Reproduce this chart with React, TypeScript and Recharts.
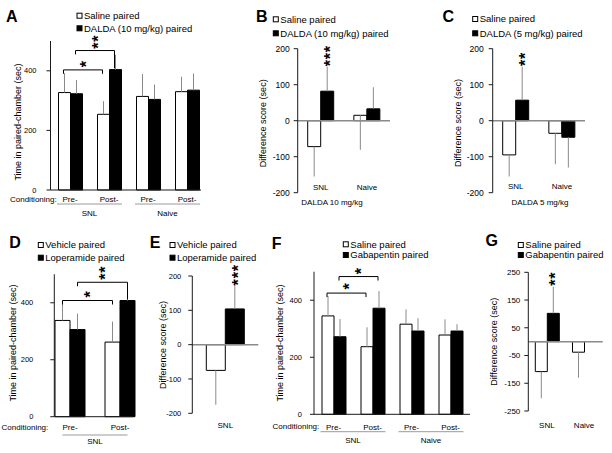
import React from "react";
import { BarChart, Bar, XAxis, YAxis, ErrorBar, ReferenceLine, ReferenceDot } from "recharts";

const W = 612;
const H = 453;
const YW = 40;
const FONT = '"Liberation Sans", Arial, Helvetica, sans-serif';
const AXIS = "#1a1a1a";
const ERR = "#8a8a8a";
const ZERO = "#8a8a8a";
const UNDER = "#9a9a9a";

// A: DALDA 10 mg/kg, time in paired chamber
const aSeries = ["Saline paired", "DALDA (10 mg/kg) paired"];
const aCond = ["Pre-", "Post-", "Pre-", "Post-"];
const aGroup = ["SNL", "SNL", "Naive", "Naive"];
const aSaline = [327, 254, 314, 330];
const aSalineErr = [65, 44, 75, 50];
const aDalda = [323, 404, 304, 335];
const aDaldaErr = [46, 50, 50, 56];

// B: difference score, DALDA 10 mg/kg
const bSeries = ["Saline paired", "DALDA (10 mg/kg) paired"];
const bCats = ["SNL", "Naive"];
const bSaline = [-72, 15];
const bSalineErr = [[83, 0], [96, 0]];
const bDalda = [82, 33];
const bDaldaErr = [[0, 68], [0, 60]];

// C: difference score, DALDA 5 mg/kg
const cSeries = ["Saline paired", "DALDA (5 mg/kg) paired"];
const cCats = ["SNL", "Naive"];
const cSaline = [-95, -35];
const cSalineErr = [[60, 0], [86, 0]];
const cDalda = [57, -46];
const cDaldaErr = [[0, 93], [84, 0]];

// D: loperamide, time in paired chamber
const dSeries = ["Vehicle paired", "Loperamide paired"];
const dCond = ["Pre-", "Post-"];
const dGroup = ["SNL", "SNL"];
const dVehicle = [338, 262];
const dVehicleErr = [70, 72];
const dLoperamide = [306, 408];
const dLoperamideErr = [56, 55];

// E: difference score, loperamide
const eSeries = ["Vehicle paired", "Loperamide paired"];
const eCats = ["SNL"];
const eVehicle = [-75];
const eVehicleErr = [[100, 0]];
const eLoperamide = [104];
const eLoperamideErr = [[0, 71]];

// F: gabapentin, time in paired chamber
const fSeries = ["Saline paired", "Gabapentin paired"];
const fCond = ["Pre-", "Post-", "Pre-", "Post-"];
const fGroup = ["SNL", "SNL", "Naive", "Naive"];
const fSaline = [345, 237, 316, 278];
const fSalineErr = [70, 68, 52, 55];
const fGabapentin = [272, 372, 292, 292];
const fGabapentinErr = [62, 60, 45, 24];

// G: difference score, gabapentin
const gSeries = ["Saline paired", "Gabapentin paired"];
const gCats = ["SNL", "Naive"];
const gSaline = [-108, -38];
const gSalineErr = [[96, 0], [92, 0]];
const gGabapentin = [102, 0];
const gGabapentinErr = [[0, 96], [0, 42]];

const timeDomain = [0, 500];
const timeTicks = [0, 200, 400];
const diffDomain = [-200, 200];
const diffTicks = [-200, -100, 0, 100, 200];
const gDomain = [-250, 250];
const gTicks = [-250, -150, -50, 50, 150, 250];

// significance brackets (values in sec), side w = white bar, b = black bar
const aBrackets = [
  { from: 0, to: 1, side: "w", y: 403, endL: 390, endR: 390, stars: 1, starY: 424 },
  { from: 0, to: 1, side: "b", y: 468, endL: 455, endR: 408, stars: 2, starY: 486 },
];
const dBrackets = [
  { from: 0, to: 1, side: "w", y: 408, endL: 394, endR: 394, stars: 1, starY: 431 },
  { from: 0, to: 1, side: "b", y: 472, endL: 458, endR: 412, stars: 2, starY: 493 },
];
const fBrackets = [
  { from: 0, to: 1, side: "w", y: 425, endL: 411, endR: 411, stars: 1, starY: 450 },
  { from: 0, to: 1, side: "b", y: 483, endL: 469, endR: 469, stars: 1, starY: 503 },
];
const bStars = [{ cat: 0, side: "b", count: 3, y: 161 }];
const cStars = [{ cat: 0, side: "b", count: 2, y: 162 }];
const eStars = [{ cat: 0, side: "b", count: 3, y: 183 }];
const gStars = [{ cat: 0, side: "b", count: 2, y: 214 }];

// position of a bar centre on the hidden numeric axis [0, n]
function barPos(L: any, n: number, i: number, side: string) {
  const band = (L.right + L.padR * -1 - L.left - L.padL) / n;
  const off = Math.floor((band - 2 * L.barSize) / 2);
  const px = off + (side === "w" ? L.barSize / 2 : 1.5 * L.barSize);
  return i + px / band;
}

// stacked asterisks as one vertical run of text; cy = centre of the lowest one
function Stars({ cx, cy, count }: any) {
  const mid = cy - ((count - 1) * 7) / 2;
  const bx = cx + 9;
  return (
    <text
      x={bx}
      y={mid}
      transform={`rotate(-90 ${bx} ${mid})`}
      textAnchor="middle"
      fontSize={16}
      fontWeight="bold"
      letterSpacing={0.8}
      fontFamily={FONT}
      fill="#000"
    >
      {"*".repeat(count)}
    </text>
  );
}

function yAxisFor(L: any, domain: number[], ticks: number[]) {
  return (
    <YAxis
      width={YW}
      domain={domain}
      ticks={ticks}
      interval={0}
      tickSize={4}
      tickMargin={L.tickMargin}
      axisLine={{ stroke: AXIS }}
      tickLine={{ stroke: AXIS }}
      tick={{ fontSize: L.tickFont, fill: "#000", fontFamily: FONT }}
    />
  );
}

function slotAxis(n: number, pad: any) {
  return (
    <XAxis xAxisId="n" dataKey="slot" type="number" domain={[0, n]} allowDataOverflow hide padding={pad} />
  );
}

function TimeChart({ cond, group, white, whiteErr, black, blackErr, brackets, L }: any) {
  const rows = cond.map((c: string, i: number) => ({
    cond: c,
    group: group[i],
    slot: i + 0.5,
    white: white[i],
    whiteErr: [0, whiteErr[i]],
    black: black[i],
    blackErr: [0, blackErr[i]],
  }));
  const n = rows.length;
  const pad = { left: L.padL, right: L.padR };
  return (
    <div style={{ position: "absolute", left: 0, top: 0 }}>
      <BarChart
        width={W}
        height={H}
        data={rows}
        barGap={0}
        barSize={L.barSize}
        margin={{ top: L.top, left: L.left - YW, right: W - L.right, bottom: H - L.bottom - 32 }}
      >
        <XAxis
          dataKey="cond"
          height={12}
          padding={pad}
          axisLine={{ stroke: AXIS }}
          tickLine={false}
          tickSize={0}
          tickMargin={0}
          interval={0}
          tick={(t: any) => (
            <text x={t.x} y={t.y + L.catOff + 2.8} textAnchor="middle" fontSize={8} fontFamily={FONT} fill="#000">
              {t.payload.value}
            </text>
          )}
        />
        <XAxis
          xAxisId="g"
          dataKey="group"
          allowDuplicatedCategory={false}
          height={20}
          padding={pad}
          axisLine={false}
          tickLine={false}
          tickSize={0}
          tickMargin={0}
          interval={0}
          tick={(t: any) => (
            <g>
              <line x1={t.x - 32.5} x2={t.x + 32.5} y1={t.y + L.lineOff - 12} y2={t.y + L.lineOff - 12} stroke={UNDER} />
              <text x={t.x} y={t.y + L.groupOff - 12 + 2.8} textAnchor="middle" fontSize={8} fontFamily={FONT} fill="#000">
                {t.payload.value}
              </text>
            </g>
          )}
        />
        {slotAxis(n, pad)}
        {yAxisFor(L, timeDomain, timeTicks)}
        <Bar dataKey="white" fill="#fff" stroke="#000" strokeWidth={1} isAnimationActive={false}>
          <ErrorBar dataKey="whiteErr" width={0} stroke={ERR} strokeWidth={1} isAnimationActive={false} />
        </Bar>
        <Bar dataKey="black" fill="#000" stroke="#000" strokeWidth={1} isAnimationActive={false}>
          <ErrorBar dataKey="blackErr" width={0} stroke={ERR} strokeWidth={1} isAnimationActive={false} />
        </Bar>
        {brackets.flatMap((b: any, k: number) => {
          const x1 = barPos(L, n, b.from, b.side);
          const x2 = barPos(L, n, b.to, b.side);
          return [
            <ReferenceLine key={`h${k}`} xAxisId="n" segment={[{ x: x1, y: b.y }, { x: x2, y: b.y }]} stroke="#000" ifOverflow="visible" />,
            <ReferenceLine key={`l${k}`} xAxisId="n" segment={[{ x: x1, y: b.y }, { x: x1, y: b.endL }]} stroke="#000" ifOverflow="visible" />,
            <ReferenceLine key={`r${k}`} xAxisId="n" segment={[{ x: x2, y: b.y }, { x: x2, y: b.endR }]} stroke="#000" ifOverflow="visible" />,
            <ReferenceDot
              key={`s${k}`}
              xAxisId="n"
              x={(x1 + x2) / 2}
              y={b.starY}
              r={0}
              ifOverflow="visible"
              shape={(p: any) => <Stars cx={p.cx} cy={p.cy} count={b.stars} />}
            />,
          ];
        })}
      </BarChart>
    </div>
  );
}

function DiffChart({ cats, white, whiteErr, black, blackErr, stars, domain, ticks, L }: any) {
  const rows = cats.map((c: string, i: number) => ({
    cat: c,
    slot: i + 0.5,
    white: white[i],
    whiteErr: whiteErr[i],
    black: black[i],
    blackErr: blackErr[i],
  }));
  const n = rows.length;
  const pad = { left: L.padL, right: L.padR };
  return (
    <div style={{ position: "absolute", left: 0, top: 0 }}>
      <BarChart
        width={W}
        height={H}
        data={rows}
        barGap={0}
        barSize={L.barSize}
        margin={{ top: L.top, left: L.left - YW, right: W - L.right, bottom: H - L.bottom - 12 }}
      >
        <XAxis
          dataKey="cat"
          height={12}
          padding={pad}
          axisLine={false}
          tickLine={false}
          tickSize={0}
          tickMargin={0}
          interval={0}
          tick={(t: any) => (
            <text x={t.x} y={t.y + L.catOff + 2.8} textAnchor="middle" fontSize={8} fontFamily={FONT} fill="#000">
              {t.payload.value}
            </text>
          )}
        />
        {slotAxis(n, pad)}
        {yAxisFor(L, domain, ticks)}
        <Bar dataKey="white" fill="#fff" stroke="#000" strokeWidth={1} isAnimationActive={false}>
          <ErrorBar dataKey="whiteErr" width={0} stroke={ERR} strokeWidth={1} isAnimationActive={false} />
        </Bar>
        <Bar dataKey="black" fill="#000" stroke="#000" strokeWidth={1} isAnimationActive={false}>
          <ErrorBar dataKey="blackErr" width={0} stroke={ERR} strokeWidth={1} isAnimationActive={false} />
        </Bar>
        <ReferenceLine y={0} stroke={ZERO} strokeWidth={1.5} />
        {stars.map((s: any, k: number) => (
          <ReferenceDot
            key={k}
            xAxisId="n"
            x={barPos(L, n, s.cat, s.side)}
            y={s.y}
            r={0}
            ifOverflow="visible"
            shape={(p: any) => <Stars cx={p.cx} cy={p.cy} count={s.count} />}
          />
        ))}
      </BarChart>
    </div>
  );
}

function Legend2({ x, y, labels }: any) {
  return (
    <g>
      {labels.map((lab: string, i: number) => (
        <g key={i}>
          <rect x={x} y={y[i] - 2.5} width={5} height={5} fill={i === 0 ? "#fff" : "#000"} stroke="#000" strokeWidth={1} />
          <text x={x + 7} y={y[i] + 3.3} fontSize={9.5} fontFamily={FONT} fill="#000">
            {lab}
          </text>
        </g>
      ))}
    </g>
  );
}

function Letter({ x, y, t }: any) {
  return (
    <text x={x} y={y + 5.8} textAnchor="middle" fontSize={16} fontWeight="bold" fontFamily={FONT} fill="#000">
      {t}
    </text>
  );
}

function VLabel({ x, y, t }: any) {
  return (
    <text x={x} y={y} transform={`rotate(-90 ${x} ${y})`} textAnchor="middle" dominantBaseline="central" fontSize={9} fontFamily={FONT} fill="#000">
      {t}
    </text>
  );
}

function Small({ x, y, t, anchor = "middle" }: any) {
  return (
    <text x={x} y={y + 2.8} textAnchor={anchor} fontSize={8} fontFamily={FONT} fill="#000">
      {t}
    </text>
  );
}

const LA = { left: 50.5, right: 201, top: 41, bottom: 190, padL: 0, padR: -5.5, barSize: 12, tickFont: 7.5, tickMargin: 10, catOff: 9, lineOff: 14, groupOff: 23 };
const LB = { left: 297.7, right: 390, top: 48.7, bottom: 192.7, padL: 0, padR: 0, barSize: 13, tickFont: 8.5, tickMargin: 4, catOff: -6 };
const LC = { left: 492.7, right: 585, top: 48.7, bottom: 192.7, padL: 0, padR: 0, barSize: 13, tickFont: 8.5, tickMargin: 5, catOff: -7 };
const LD = { left: 54.3, right: 133, top: 274.3, bottom: 416.7, padL: -9.3, padR: -12, barSize: 15, tickFont: 7.5, tickMargin: 17, catOff: 10, lineOff: 18.3, groupOff: 24.3 };
const LE = { left: 192.3, right: 258.3, top: 276, bottom: 413.3, padL: 0, padR: 0, barSize: 19, tickFont: 7.5, tickMargin: 7, catOff: 11.7 };
const LF = { left: 314, right: 470, top: 271.7, bottom: 414.3, padL: 0, padR: 0, barSize: 12, tickFont: 7.5, tickMargin: 8, catOff: 12.4, lineOff: 17.4, groupOff: 25.7 };
const LG = { left: 528.3, right: 602.7, top: 272.3, bottom: 411, padL: 0, padR: 0, barSize: 12, tickFont: 8, tickMargin: 4, catOff: 14 };

export default function App() {
  const timeLabel = "Time in paired-chamber (sec)";
  const diffLabel = "Difference score (sec)";
  return (
    <div style={{ position: "absolute", left: 0, top: 0, width: W, height: H, background: "#fff", fontFamily: FONT }}>
      <TimeChart cond={aCond} group={aGroup} white={aSaline} whiteErr={aSalineErr} black={aDalda} blackErr={aDaldaErr} brackets={aBrackets} L={LA} />
      <DiffChart cats={bCats} white={bSaline} whiteErr={bSalineErr} black={bDalda} blackErr={bDaldaErr} stars={bStars} domain={diffDomain} ticks={diffTicks} L={LB} />
      <DiffChart cats={cCats} white={cSaline} whiteErr={cSalineErr} black={cDalda} blackErr={cDaldaErr} stars={cStars} domain={diffDomain} ticks={diffTicks} L={LC} />
      <TimeChart cond={dCond} group={dGroup} white={dVehicle} whiteErr={dVehicleErr} black={dLoperamide} blackErr={dLoperamideErr} brackets={dBrackets} L={LD} />
      <DiffChart cats={eCats} white={eVehicle} whiteErr={eVehicleErr} black={eLoperamide} blackErr={eLoperamideErr} stars={eStars} domain={diffDomain} ticks={diffTicks} L={LE} />
      <TimeChart cond={fCond} group={fGroup} white={fSaline} whiteErr={fSalineErr} black={fGabapentin} blackErr={fGabapentinErr} brackets={fBrackets} L={LF} />
      <DiffChart cats={gCats} white={gSaline} whiteErr={gSalineErr} black={gGabapentin} blackErr={gGabapentinErr} stars={gStars} domain={gDomain} ticks={gTicks} L={LG} />
      <svg width={W} height={H} style={{ position: "absolute", left: 0, top: 0, pointerEvents: "none" }}>
        <Letter x={11.7} y={15.8} t="A" />
        <Letter x={261.7} y={15.7} t="B" />
        <Letter x={448.3} y={15.7} t="C" />
        <Letter x={15} y={241.7} t="D" />
        <Letter x={155} y={241.7} t="E" />
        <Letter x={276.7} y={243.3} t="F" />
        <Letter x={491.7} y={240} t="G" />

        <Legend2 x={77} y={[15.7, 28.3]} labels={aSeries} />
        <Legend2 x={273.3} y={[19.3, 33.3]} labels={bSeries} />
        <Legend2 x={472.7} y={[19, 33.3]} labels={cSeries} />
        <Legend2 x={38.3} y={[245, 257.7]} labels={dSeries} />
        <Legend2 x={170} y={[245, 257.7]} labels={eSeries} />
        <Legend2 x={343.3} y={[244.3, 255]} labels={fSeries} />
        <Legend2 x={518.3} y={[245, 255]} labels={gSeries} />

        <VLabel x={18.3} y={122} t={timeLabel} />
        <VLabel x={12.7} y={343} t={timeLabel} />
        <VLabel x={280} y={343} t={timeLabel} />
        <VLabel x={263.3} y={123.3} t={diffLabel} />
        <VLabel x={458.3} y={123} t={diffLabel} />
        <VLabel x={163.3} y={345} t={diffLabel} />
        <VLabel x={494} y={341.7} t={diffLabel} />

        <Small x={56.7} y={199} t="Conditioning:" anchor="end" />
        <Small x={48.3} y={426.7} t="Conditioning:" anchor="end" />
        <Small x={319.3} y={426.5} t="Conditioning:" anchor="end" />
        <Small x={332} y={202.3} t="DALDA 10 mg/kg" />
        <Small x={540} y={202.3} t="DALDA 5 mg/kg" />
      </svg>
    </div>
  );
}
